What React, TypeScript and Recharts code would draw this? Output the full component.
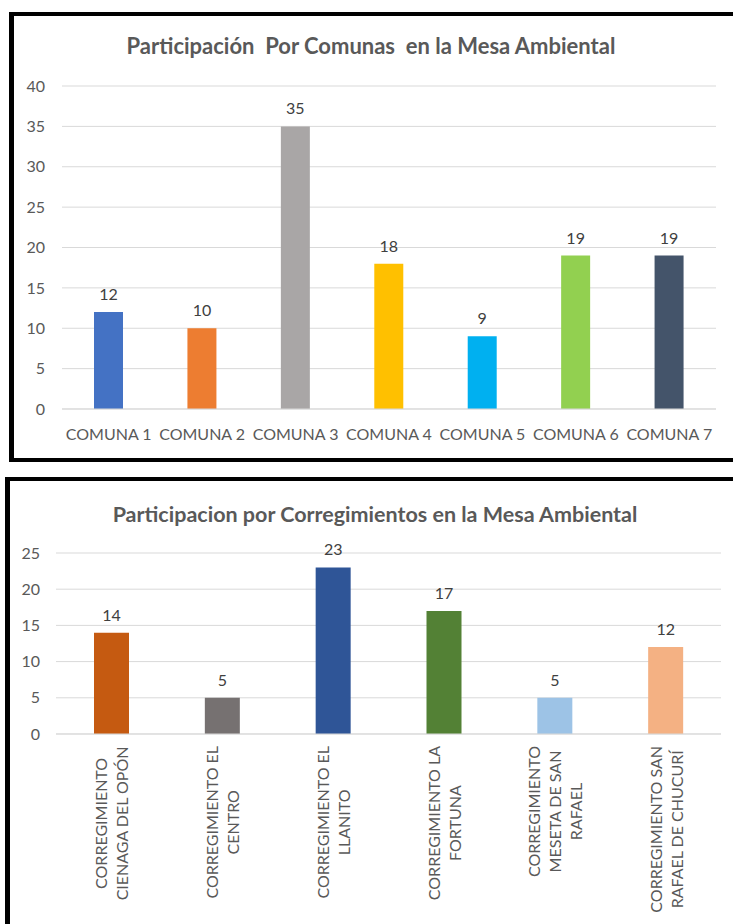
import React from 'react';
import { BarChart, Bar, XAxis, YAxis, CartesianGrid, LabelList, Cell } from 'recharts';

const comunas = ['COMUNA 1', 'COMUNA 2', 'COMUNA 3', 'COMUNA 4', 'COMUNA 5', 'COMUNA 6', 'COMUNA 7'];
const comunaValues = [12, 10, 35, 18, 9, 19, 19];
const comunaColors = ['#4472C4', '#ED7D31', '#A9A6A6', '#FFC000', '#00B0F0', '#92D050', '#44546A'];
const comunaTicks = [0, 5, 10, 15, 20, 25, 30, 35, 40];

const corregimientos = [
	'CORREGIMIENTO CIENAGA DEL OPÓN',
	'CORREGIMIENTO EL CENTRO',
	'CORREGIMIENTO EL LLANITO',
	'CORREGIMIENTO LA FORTUNA',
	'CORREGIMIENTO MESETA DE SAN RAFAEL',
	'CORREGIMIENTO SAN RAFAEL DE CHUCURÍ'
];
const corregimientoValues = [14, 5, 23, 17, 5, 12];
const corregimientoColors = ['#C55A11', '#767171', '#2F5597', '#538135', '#9DC3E6', '#F4B183'];
const corregimientoTicks = [0, 5, 10, 15, 20, 25];

const FONT = 'Lato, "Open Sans", sans-serif';
const GRID = '#D9D9D9';
const TEXT = '#595959';
const TICK_FONT_SIZE = 16;

const comunaData = comunas.map((name, i) => ({ name, value: comunaValues[i] }));
const corregimientoData = corregimientos.map((name, i) => ({ name, value: corregimientoValues[i] }));

// split a long category name into lines of at most maxLen chars
const wrap = (text: string, maxLen: number) => {
	const lines: string[] = [];
	let cur = '';
	text.split(' ').forEach(w => {
		const next = cur ? cur + ' ' + w : w;
		if (next.length > maxLen && cur) {
			lines.push(cur);
			cur = w;
		} else {
			cur = next;
		}
	});
	if (cur) lines.push(cur);
	return lines;
};

let ctx: CanvasRenderingContext2D | null = null;
const textWidth = (s: string) => {
	if (!ctx) ctx = document.createElement('canvas').getContext('2d');
	if (!ctx) return s.length * 9;
	ctx.font = `${TICK_FONT_SIZE}px Lato`;
	return ctx.measureText(s).width;
};

// rotated, multi-line tick; lines centred on each other like Excel does
const RotatedTick = (props: any) => {
	const { x, y, payload } = props;
	const lines = wrap(payload.value, 17);
	const n = lines.length;
	const longest = Math.max(...lines.map(textWidth));
	const top = y + 12;
	return (
		<g transform={`translate(${x},${top + longest / 2}) rotate(-90)`}>
			{lines.map((line, i) => (
				<text
					key={i}
					x={0}
					y={(i - (n - 1) / 2) * 21}
					textAnchor="middle"
					dominantBaseline="central"
					fill={TEXT}
					style={{ fontSize: TICK_FONT_SIZE, fontFamily: FONT }}
				>
					{line}
				</text>
			))}
		</g>
	);
};

const panelStyle = (top: number, left: number, height: number): React.CSSProperties => ({
	position: 'absolute',
	top,
	left,
	width: 760,
	height,
	border: '4px solid #000',
	borderLeftWidth: 5,
	boxSizing: 'border-box',
	background: '#fff'
});

const titleStyle = (top: number, center: number, size: number): React.CSSProperties => ({
	position: 'absolute',
	top,
	left: center - 350,
	width: 700,
	textAlign: 'center',
	fontFamily: FONT,
	fontWeight: 700,
	fontSize: size,
	color: TEXT,
	lineHeight: '24px',
	whiteSpace: 'pre'
});

const App = () => {
	return (
		<div
			style={{
				position: 'absolute',
				left: 0,
				top: 0,
				width: 733,
				height: 924,
				overflow: 'hidden',
				background: '#fff'
			}}
		>
			<div style={panelStyle(12, 9, 450)} />
			<div style={panelStyle(477, 5, 470)} />

			<div style={titleStyle(34, 371, 22)}>{'Participación  Por Comunas  en la Mesa Ambiental'}</div>
			<div style={titleStyle(502, 375, 21.5)}>Participacion por Corregimientos en la Mesa Ambiental</div>

			<div style={{ position: 'absolute', left: 0, top: 0 }}>
				<BarChart
					width={733}
					height={462}
					data={comunaData}
					margin={{ top: 86, right: 17, left: 22, bottom: 13 }}
				>
					<CartesianGrid vertical={false} stroke={GRID} strokeWidth={1} />
					<XAxis
						dataKey="name"
						axisLine={{ stroke: GRID }}
						tickLine={false}
						tickSize={0}
						tickMargin={20}
						height={40}
						interval={0}
						tick={{ fill: TEXT, fontSize: TICK_FONT_SIZE, fontFamily: FONT }}
					/>
					<YAxis
						width={40}
						domain={[0, 40]}
						ticks={comunaTicks}
						axisLine={false}
						tickLine={false}
						tickSize={0}
						tickMargin={17}
						tick={{ fill: TEXT, fontSize: TICK_FONT_SIZE, fontFamily: FONT }}
					/>
					<Bar dataKey="value" barSize={29} isAnimationActive={false}>
						{comunaData.map((d, i) => (
							<Cell key={d.name} fill={comunaColors[i]} />
						))}
						<LabelList
							dataKey="value"
							position="top"
							offset={12}
							fill="#404040"
							style={{ fontSize: 16, fontFamily: FONT }}
						/>
					</Bar>
				</BarChart>
			</div>

			<div style={{ position: 'absolute', left: 0, top: 478 }}>
				<BarChart
					width={733}
					height={446}
					data={corregimientoData}
					margin={{ top: 75, right: 12, left: 16, bottom: 10 }}
				>
					<CartesianGrid vertical={false} stroke={GRID} strokeWidth={1} />
					<XAxis
						dataKey="name"
						axisLine={{ stroke: GRID }}
						tickLine={false}
						tickSize={0}
						tickMargin={0}
						height={180}
						interval={0}
						tick={<RotatedTick />}
					/>
					<YAxis
						width={40}
						domain={[0, 25]}
						ticks={corregimientoTicks}
						axisLine={false}
						tickLine={false}
						tickSize={0}
						tickMargin={16}
						tick={{ fill: TEXT, fontSize: TICK_FONT_SIZE, fontFamily: FONT }}
					/>
					<Bar dataKey="value" barSize={35} isAnimationActive={false}>
						{corregimientoData.map((d, i) => (
							<Cell key={d.name} fill={corregimientoColors[i]} />
						))}
						<LabelList
							dataKey="value"
							position="top"
							offset={12}
							fill="#404040"
							style={{ fontSize: 16, fontFamily: FONT }}
						/>
					</Bar>
				</BarChart>
			</div>
		</div>
	);
};

export default App;
